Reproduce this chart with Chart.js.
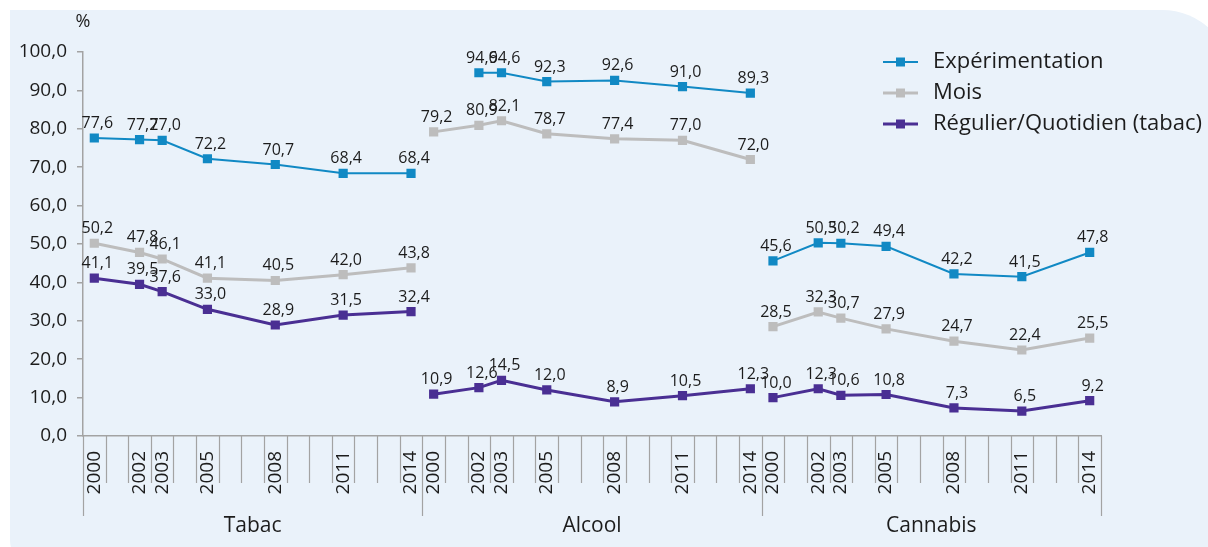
<!DOCTYPE html>
<html>
<head>
<meta charset="utf-8">
<script src="https://cdn.jsdelivr.net/npm/chart.js@4.4.0/dist/chart.umd.min.js"></script>
<style>
  html, body { margin: 0; padding: 0; background: #ffffff; }
  #wrap { width: 1208px; height: 547px; position: relative; }
</style>
</head>
<body>
<div id="wrap"><canvas id="chart" width="1208" height="547"></canvas></div>
<script>
// Survey groups and years
const groups = ['Tabac', 'Alcool', 'Cannabis'];
const surveyYears = [2000, 2002, 2003, 2005, 2008, 2011, 2014];
const firstYear = 2000;
const lastYear = 2014;

// Expérimentation
const expTabac    = [77.6, 77.2, 77.0, 72.2, 70.7, 68.4, 68.4];
const expAlcool   = [null, 94.6, 94.6, 92.3, 92.6, 91.0, 89.3];
const expCannabis = [45.6, 50.3, 50.2, 49.4, 42.2, 41.5, 47.8];

// Mois
const moisTabac    = [50.2, 47.8, 46.1, 41.1, 40.5, 42.0, 43.8];
const moisAlcool   = [79.2, 80.9, 82.1, 78.7, 77.4, 77.0, 72.0];
const moisCannabis = [28.5, 32.3, 30.7, 27.9, 24.7, 22.4, 25.5];

// Régulier / Quotidien (tabac)
const regTabac    = [41.1, 39.5, 37.6, 33.0, 28.9, 31.5, 32.4];
const regAlcool   = [10.9, 12.6, 14.5, 12.0, 8.9, 10.5, 12.3];
const regCannabis = [10.0, 12.3, 10.6, 10.8, 7.3, 6.5, 9.2];

const seriesNames = ['Expérimentation', 'Mois', 'Régulier/Quotidien (tabac)'];
const seriesByGroup = [
  [expTabac, expAlcool, expCannabis],
  [moisTabac, moisAlcool, moisCannabis],
  [regTabac, regAlcool, regCannabis]
];
const seriesColors = ['#1189c4', '#bdbdbd', '#4a2f93'];
const seriesWidths = [2, 3, 3];

const FONT = '"Open Sans", "DejaVu Sans", sans-serif';
const TEXT = '#1c1c1c';
const AXIS = '#a3a3a3';

// One category slot per calendar year in each group; only survey years get a label
const slotsPerGroup = lastYear - firstYear + 1;
const labels = [];
groups.forEach(() => {
  for (let y = firstYear; y <= lastYear; y++) {
    labels.push(surveyYears.includes(y) ? String(y) : '');
  }
});

// Place one group's values into its own slots, leaving the rest empty
function placeInGroup(values, gi) {
  const out = new Array(labels.length).fill(null);
  for (let y = firstYear; y <= lastYear; y++) {
    const i = surveyYears.indexOf(y);
    if (i >= 0) out[gi * slotsPerGroup + (y - firstYear)] = values[i];
  }
  return out;
}

const fmt = v => v.toFixed(1).replace('.', ',');

// One line per series and group, so lines never cross from one group to the next
const datasets = [];
seriesNames.forEach((name, si) => {
  groups.forEach((g, gi) => {
    datasets.push({
      label: name,
      seriesIndex: si,
      data: placeInGroup(seriesByGroup[si][gi], gi),
      borderColor: seriesColors[si],
      backgroundColor: seriesColors[si],
      borderWidth: seriesWidths[si],
      pointStyle: 'rect',
      pointRadius: 6.5,
      pointHoverRadius: 6.5,
      pointBorderWidth: 0,
      tension: 0,
      spanGaps: true
    });
  });
});

const panelPlugin = {
  id: 'panel',
  beforeDraw(chart) {
    const ctx = chart.ctx;
    ctx.save();
    ctx.fillStyle = '#eaf2fa';
    ctx.beginPath();
    ctx.roundRect(10, 10, 1222, 560, [0, 70, 60, 30]);
    ctx.fill();
    ctx.restore();
  }
};

const decorPlugin = {
  id: 'decor',
  afterDraw(chart) {
    const ctx = chart.ctx;
    const x = chart.scales.x;
    const yS = chart.scales.y;
    const axisY = chart.chartArea.bottom;
    const half = (x.getPixelForValue(1) - x.getPixelForValue(0)) / 2;
    ctx.save();

    // category separators below the axis
    ctx.strokeStyle = AXIS;
    ctx.lineWidth = 1.2;
    for (let k = 0; k <= labels.length; k++) {
      const px = Math.round(k < labels.length ? x.getPixelForValue(k) - half : x.getPixelForValue(k - 1) + half) + 0.5;
      const long = k % slotsPerGroup === 0;
      ctx.beginPath();
      ctx.moveTo(px, axisY);
      ctx.lineTo(px, axisY + (long ? 80 : 47));
      ctx.stroke();
    }

    // group names
    ctx.fillStyle = TEXT;
    ctx.font = '21px ' + FONT;
    ctx.textAlign = 'center';
    ctx.textBaseline = 'middle';
    groups.forEach((g, gi) => {
      const a = x.getPixelForValue(gi * slotsPerGroup) - half;
      const b = x.getPixelForValue((gi + 1) * slotsPerGroup - 1) + half;
      ctx.fillText(g, (a + b) / 2, axisY + 90);
    });

    // unit
    ctx.font = '18px ' + FONT;
    ctx.fillText('%', yS.right, 22);

    // value labels
    ctx.font = '16px ' + FONT;
    ctx.textBaseline = 'alphabetic';
    chart.data.datasets.forEach((ds, di) => {
      const meta = chart.getDatasetMeta(di);
      meta.data.forEach((pt, i) => {
        const v = ds.data[i];
        if (v === null || v === undefined) return;
        ctx.fillText(fmt(v), pt.x + 3, pt.y - 10);
      });
    });

    // legend, one entry per series
    ctx.font = '22px ' + FONT;
    ctx.textAlign = 'left';
    ctx.textBaseline = 'middle';
    seriesNames.forEach((name, si) => {
      const cy = 62 + si * 31;
      ctx.strokeStyle = seriesColors[si];
      ctx.lineWidth = seriesWidths[si];
      ctx.beginPath();
      ctx.moveTo(883, cy);
      ctx.lineTo(918, cy);
      ctx.stroke();
      ctx.fillStyle = seriesColors[si];
      ctx.fillRect(896, cy - 4.5, 9, 9);
      ctx.fillStyle = TEXT;
      ctx.fillText(name, 933, cy);
    });

    ctx.restore();
  }
};

new Chart(document.getElementById('chart'), {
  type: 'line',
  data: { labels, datasets },
  options: {
    responsive: false,
    animation: false,
    events: [],
    layout: { padding: { left: 0, top: 52, right: 107, bottom: 0 } },
    plugins: { legend: { display: false }, tooltip: { enabled: false } },
    scales: {
      x: {
        type: 'category',
        offset: true,
        grid: { display: false },
        border: { display: true, color: AXIS, width: 1.5 },
        ticks: {
          autoSkip: false, minRotation: 90, maxRotation: 90, padding: 7,
          color: TEXT, font: { family: FONT, size: 19 }
        },
        afterFit: s => { s.height = 111; }
      },
      y: {
        min: 0, max: 100,
        border: { display: true, color: AXIS, width: 1.5 },
        grid: { drawOnChartArea: false, drawTicks: true, tickLength: 6, color: AXIS, lineWidth: 1.5 },
        ticks: {
          stepSize: 10, padding: 10, color: TEXT,
          font: { family: FONT, size: 19 },
          callback: v => fmt(v)
        },
        afterFit: s => { s.width = 83; }
      }
    }
  },
  plugins: [panelPlugin, decorPlugin]
});
</script>
</body>
</html>
